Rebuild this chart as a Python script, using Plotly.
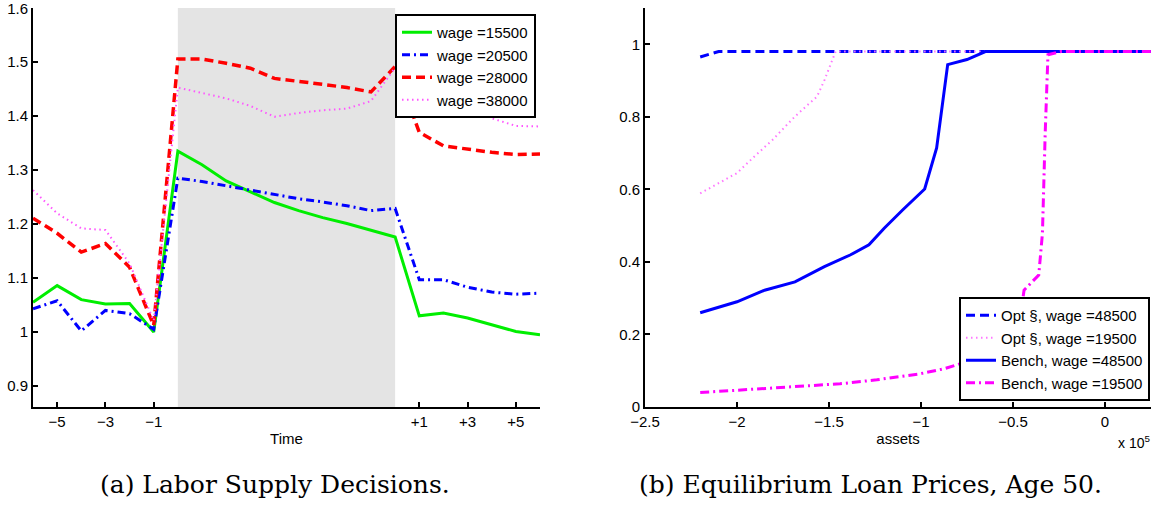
import plotly.graph_objects as go

# ---------------- Panel (a): Labor supply decisions ----------------
periods = list(range(-6, 16))
wage_15500 = [1.055, 1.086, 1.060, 1.052, 1.053, 1.000,
              1.335, 1.310, 1.280, 1.260, 1.240, 1.225, 1.212, 1.201, 1.188, 1.176,
              1.030, 1.035, 1.026, 1.014, 1.001, 0.995]
wage_20500 = [1.043, 1.058, 1.002, 1.040, 1.034, 1.005,
              1.285, 1.279, 1.271, 1.263, 1.254, 1.247, 1.241, 1.234, 1.225, 1.229,
              1.097, 1.097, 1.083, 1.074, 1.070, 1.072]
wage_28000 = [1.211, 1.183, 1.148, 1.164, 1.120, 1.012,
              1.506, 1.506, 1.498, 1.489, 1.470, 1.465, 1.459, 1.453, 1.445, 1.492,
              1.370, 1.345, 1.339, 1.333, 1.329, 1.330]
wage_38000 = [1.263, 1.220, 1.192, 1.189, 1.127, 1.021,
              1.453, 1.443, 1.433, 1.419, 1.399, 1.406, 1.411, 1.414, 1.428, 1.490,
              1.458, 1.437, 1.419, 1.396, 1.382, 1.381]
shade_start, shade_end = 0, 9
time_tickvals = [-5, -3, -1, 10, 12, 14]
time_ticktext = ["\u22125", "\u22123", "\u22121", "+1", "+3", "+5"]
supply_tickvals = [0.9, 1.0, 1.1, 1.2, 1.3, 1.4, 1.5, 1.6]
supply_ticktext = ["0.9", "1", "1.1", "1.2", "1.3", "1.4", "1.5", "1.6"]

# ---------------- Panel (b): Equilibrium loan prices ----------------
opt_48500_assets = [-220000, -210000, -200000, -100000, 0, 25000]
opt_48500_price = [0.965, 0.980, 0.980, 0.980, 0.980, 0.980]

opt_19500_assets = [-220000, -200000, -190700, -180600, -168500, -156500, -152400, -146400, -100000, 0, 25000]
opt_19500_price = [0.589, 0.645, 0.690, 0.737, 0.801, 0.856, 0.902, 0.980, 0.980, 0.980, 0.980]

bench_48500_assets = [-220000, -200000, -185000, -168500, -152500, -138500, -128300, -120000,
                      -110000, -98000, -91500, -85500, -75000, -65000, -50000, 0, 25000]
bench_48500_price = [0.260, 0.290, 0.322, 0.345, 0.387, 0.419, 0.447, 0.493,
                     0.543, 0.601, 0.714, 0.944, 0.958, 0.980, 0.980, 0.980, 0.980]

bench_19500_assets = [-220000, -200000, -168500, -144000, -124000, -100000, -87000, -75000,
                      -65000, -55000, -46000, -44000, -36000, -34000, -32500, -31000, -24000, 0, 25000]
bench_19500_price = [0.040, 0.046, 0.055, 0.064, 0.075, 0.092, 0.106, 0.125,
                     0.150, 0.190, 0.249, 0.322, 0.364, 0.479, 0.755, 0.971, 0.980, 0.980, 0.980]
asset_tickvals = [-250000, -200000, -150000, -100000, -50000, 0]
asset_ticktext = ["\u22122.5", "\u22122", "\u22121.5", "\u22121", "\u22120.5", "0"]
price_tickvals = [0, 0.2, 0.4, 0.6, 0.8, 1.0]
price_ticktext = ["0", "0.2", "0.4", "0.6", "0.8", "1"]

# Page body margin is removed by the post script, so figure pixels = page pixels
W, H = 1159, 505


def px(x):
    return x / W


def py(y):
    return 1 - y / H


FONT = "Liberation Sans"
SERIF = "DejaVu Serif"

fig = go.Figure()

left_series = [
    ("wage =15500", wage_15500, "#00ee00", "solid", 3),
    ("wage =20500", wage_20500, "#0000ff", "8px,4px,2px,4px", 3),
    ("wage =28000", wage_28000, "#ff0000", "9px,5px", 3.5),
    ("wage =38000", wage_38000, "#ff55ff", "1.5px,3.5px", 2),
]
for name, vals, col, dash, w in left_series:
    fig.add_trace(go.Scatter(x=periods, y=vals, mode="lines", name=name,
                             line=dict(color=col, dash=dash, width=w),
                             xaxis="x", yaxis="y", legend="legend"))

right_series = [
    ("Opt \u00a7, wage =48500", opt_48500_assets, opt_48500_price, "#0000ff", "9px,5px", 3),
    ("Opt \u00a7, wage =19500", opt_19500_assets, opt_19500_price, "#ff77ff", "1.5px,3.5px", 2),
    ("Bench, wage =48500", bench_48500_assets, bench_48500_price, "#0000ff", "solid", 3),
    ("Bench, wage =19500", bench_19500_assets, bench_19500_price, "#ff00ff", "9px,4px,2px,4px", 3),
]
for name, xs, ys, col, dash, w in right_series:
    fig.add_trace(go.Scatter(x=xs, y=ys, mode="lines", name=name,
                             line=dict(color=col, dash=dash, width=w),
                             xaxis="x2", yaxis="y2", legend="legend2"))

# Shaded period
fig.add_shape(type="rect", xref="x", yref="y domain", x0=shade_start, x1=shade_end,
              y0=0, y1=1, fillcolor="#e4e4e4", line=dict(width=0), layer="below")

axis_common = dict(showline=True, linecolor="black", linewidth=2, ticks="inside",
                   ticklen=5, tickwidth=1.5, tickcolor="black", showgrid=False,
                   zeroline=False, automargin=False, ticklabeloverflow="allow",
                   tickfont=dict(family=FONT, size=15, color="black"))

yd = [py(407), py(8)]
fig.update_layout(
    width=W, height=H,
    margin=dict(l=0, r=0, t=0, b=0, pad=0, autoexpand=False),
    paper_bgcolor="white", plot_bgcolor="white",
    hovermode=False,
    xaxis=dict(domain=[px(33), px(540)], range=[-6, 15], tickvals=time_tickvals,
               ticktext=time_ticktext, anchor="y",
               title=dict(text="Time", font=dict(family=FONT, size=15, color="black"), standoff=4),
               **axis_common),
    yaxis=dict(domain=yd, range=[0.861, 1.6005], tickvals=supply_tickvals,
               ticktext=supply_ticktext, anchor="x", **axis_common),
    xaxis2=dict(domain=[px(645), px(1151)], range=[-250000, 25000], tickvals=asset_tickvals,
                ticktext=asset_ticktext, anchor="y2",
                title=dict(text="assets", font=dict(family=FONT, size=15, color="black"), standoff=4),
                **axis_common),
    yaxis2=dict(domain=yd, range=[0, 1.1], tickvals=price_tickvals,
                ticktext=price_ticktext, anchor="x2", **axis_common),
    legend=dict(x=px(536), y=py(14), xanchor="right", yanchor="top",
                bgcolor="white", bordercolor="black", borderwidth=2,
                font=dict(family=FONT, size=15, color="black"),
                tracegroupgap=0, itemwidth=30),
    legend2=dict(x=px(1150), y=py(401), xanchor="right", yanchor="bottom",
                 bgcolor="white", bordercolor="black", borderwidth=2,
                 font=dict(family=FONT, size=15, color="black"),
                 tracegroupgap=0, itemwidth=30),
    showlegend=True,
)

fig.add_annotation(text="x 10<sup>5</sup>", xref="paper", yref="paper",
                   x=px(1152), y=py(442), xanchor="right", yanchor="middle",
                   showarrow=False, font=dict(family=FONT, size=14, color="black"))
fig.add_annotation(text="(a) Labor Supply Decisions.", xref="paper", yref="paper",
                   x=px(275), y=py(484), xanchor="center", yanchor="middle",
                   showarrow=False, font=dict(family=SERIF, size=25, color="black"))
fig.add_annotation(text="(b) Equilibrium Loan Prices, Age 50.", xref="paper", yref="paper",
                   x=px(870), y=py(484), xanchor="center", yanchor="middle",
                   showarrow=False, font=dict(family=SERIF, size=25, color="black"))

fig.write_html("out.html", config={"displayModeBar": False},
               post_script="document.body.style.margin='0';document.body.style.overflow='hidden';")
